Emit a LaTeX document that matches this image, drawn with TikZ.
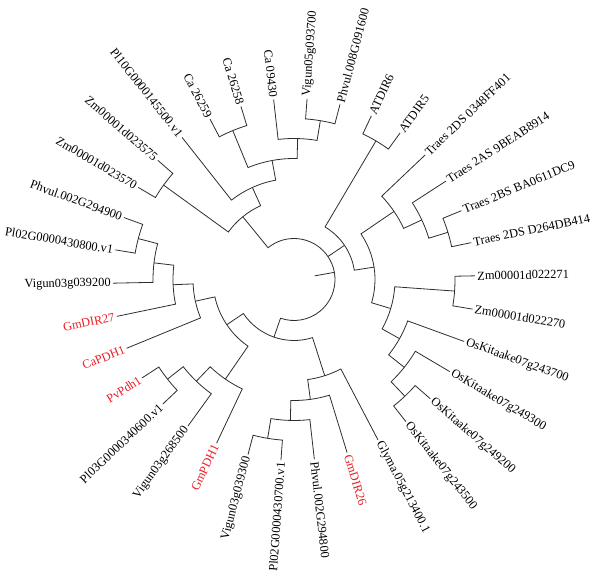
\documentclass[tikz,border=0pt]{standalone}
\usepackage{fontspec}
\setmainfont{Liberation Serif}
\definecolor{LabelRed}{RGB}{232,30,38}
\definecolor{BranchClr}{RGB}{45,45,45}
\tikzset{branch/.style={color=BranchClr,line width=0.6pt},
  leaf label/.style={font=\fontsize{9.3}{11}\selectfont,inner sep=1.6pt}}
% leaf: name, place on the circle, label, colour
\newcommand{\DefLeaf}[4]{%
  \pgfmathsetmacro{\LeafAng}{149.4-#2*360/34}%
  \expandafter\xdef\csname TreeAng#1\endcsname{\LeafAng}%
  \coordinate (#1) at (\LeafAng:181);%
  \pgfmathtruncatemacro{\LeafSide}{cos(\LeafAng)>=0 ? 1 : 0}%
  \ifnum\LeafSide=1
    \node[leaf label,text=#4,anchor=west,rotate=\LeafAng] (#1-t) at (#1) {#3};%
  \else
    \pgfmathsetmacro{\LeafRot}{\LeafAng+180}%
    \node[leaf label,text=#4,anchor=east,rotate=\LeafRot] (#1-t) at (#1) {#3};%
  \fi}
% clade: name, height, first child, second child
\newcommand{\JoinClade}[4]{%
  \pgfmathsetmacro{\JoinR}{181-20*#2}%
  \edef\JoinA{\csname TreeAng#3\endcsname}%
  \edef\JoinB{\csname TreeAng#4\endcsname}%
  \pgfmathsetmacro{\JoinM}{(\JoinA+\JoinB)/2}%
  \expandafter\xdef\csname TreeAng#1\endcsname{\JoinM}%
  \coordinate (#1) at (\JoinM:\JoinR);%
  \coordinate (#1-a) at (\JoinA:\JoinR);%
  \coordinate (#1-b) at (\JoinB:\JoinR);%
  \draw[branch] (#3) -- (#1-a) arc[start angle=\JoinA,end angle=\JoinB,radius=\JoinR] -- (#4);}
% extra child hung on a clade arc: parent, height, child
\newcommand{\AddSpoke}[3]{%
  \pgfmathsetmacro{\JoinR}{181-20*#2}%
  \coordinate (#1-#3) at (\csname TreeAng#3\endcsname:\JoinR);%
  \draw[branch] (#3) -- (#1-#3);}

\begin{document}
\begin{tikzpicture}[x=0.75pt,y=0.75pt]
\useasboundingbox (-294,-297.5) rectangle (306,279.5);
\DefLeaf{zmA}{0}{Zm00001d023570}{black}
\DefLeaf{zmB}{1}{Zm00001d023575}{black}
\DefLeaf{plA}{2}{Pl10G0000145500.v1}{black}
\DefLeaf{caA}{3}{Ca 26259}{black}
\DefLeaf{caB}{4}{Ca 26258}{black}
\DefLeaf{caC}{5}{Ca 09430}{black}
\DefLeaf{viA}{6}{Vigun05g093700}{black}
\DefLeaf{phA}{7}{Phvul.008G091600}{black}
\DefLeaf{atA}{8}{ATDIR6}{black}
\DefLeaf{atB}{9}{ATDIR5}{black}
\DefLeaf{trA}{10}{Traes 2DS 0348FF401}{black}
\DefLeaf{trB}{11}{Traes 2AS 9BEAB8914}{black}
\DefLeaf{trC}{12}{Traes 2BS BA0611DC9}{black}
\DefLeaf{trD}{13}{Traes 2DS D264DB414}{black}
\DefLeaf{zmC}{14}{Zm00001d022271}{black}
\DefLeaf{zmD}{15}{Zm00001d022270}{black}
\DefLeaf{osA}{16}{OsKitaake07g243700}{black}
\DefLeaf{osB}{17}{OsKitaake07g249300}{black}
\DefLeaf{osC}{18}{OsKitaake07g249200}{black}
\DefLeaf{osD}{19}{OsKitaake07g243500}{black}
\DefLeaf{gmA}{20}{Glyma.05g213400.1}{black}
\DefLeaf{gmB}{21}{GmDIR26}{LabelRed}
\DefLeaf{phB}{22}{Phvul.002G294800}{black}
\DefLeaf{plB}{23}{Pl02G0000430700.v1}{black}
\DefLeaf{viB}{24}{Vigun03g039300}{black}
\DefLeaf{gmC}{25}{GmPDH1}{LabelRed}
\DefLeaf{viC}{26}{Vigun03g268500}{black}
\DefLeaf{plC}{27}{Pl03G0000340600.v1}{black}
\DefLeaf{pvA}{28}{PvPdh1}{LabelRed}
\DefLeaf{caD}{29}{CaPDH1}{LabelRed}
\DefLeaf{gmD}{30}{GmDIR27}{LabelRed}
\DefLeaf{viD}{31}{Vigun03g039200}{black}
\DefLeaf{plD}{32}{Pl02G0000430800.v1}{black}
\DefLeaf{phC}{33}{Phvul.002G294900}{black}
% upper left group
\JoinClade{zmAB}{1}{zmA}{zmB}
\JoinClade{caAB}{1}{caA}{caB}
\JoinClade{viph}{1}{viA}{phA}
\JoinClade{cCa}{2}{caC}{viph}
\JoinClade{cCb}{3}{caAB}{cCa}
\JoinClade{cPl}{4}{plA}{cCb}
\JoinClade{cA}{5}{zmAB}{cPl}
% right group
\JoinClade{atAB}{1}{atA}{atB}
\JoinClade{trCD}{1}{trC}{trD}
\JoinClade{trU}{2}{trB}{trCD}
\JoinClade{trT}{3}{trA}{trU}
\JoinClade{zmCD}{1}{zmC}{zmD}
\JoinClade{osCD}{1}{osC}{osD}
\JoinClade{osY}{2}{osB}{osCD}
\JoinClade{osX}{3}{osA}{osY}
\JoinClade{cW}{4}{zmCD}{osX}
\JoinClade{cS}{5}{trT}{cW}
\JoinClade{cR}{6}{atAB}{cS}
% lower group
\JoinClade{viplB}{1}{plB}{viB}
\JoinClade{cQ}{2}{phB}{viplB}
\JoinClade{cP}{3}{gmB}{cQ}
\JoinClade{cL}{4}{gmA}{cP}
\JoinClade{plpv}{1}{plC}{pvA}
\JoinClade{cN}{2}{viC}{plpv}
\JoinClade{cM}{3}{gmC}{cN}
\JoinClade{plph}{1}{plD}{phC}
\JoinClade{cG}{2}{viD}{plph}
\JoinClade{cI}{3}{gmD}{cG}
\JoinClade{cJ}{4}{caD}{cI}
\JoinClade{cK}{5}{cM}{cJ}
\JoinClade{cF}{6}{cL}{cK}
% root and its stub
\JoinClade{root}{7}{cA}{cF}
\AddSpoke{root}{7}{cR}
\coordinate (stub) at (\csname TreeAngroot\endcsname:21);
\draw[branch] (root) -- (stub);
\end{tikzpicture}
\end{document}
